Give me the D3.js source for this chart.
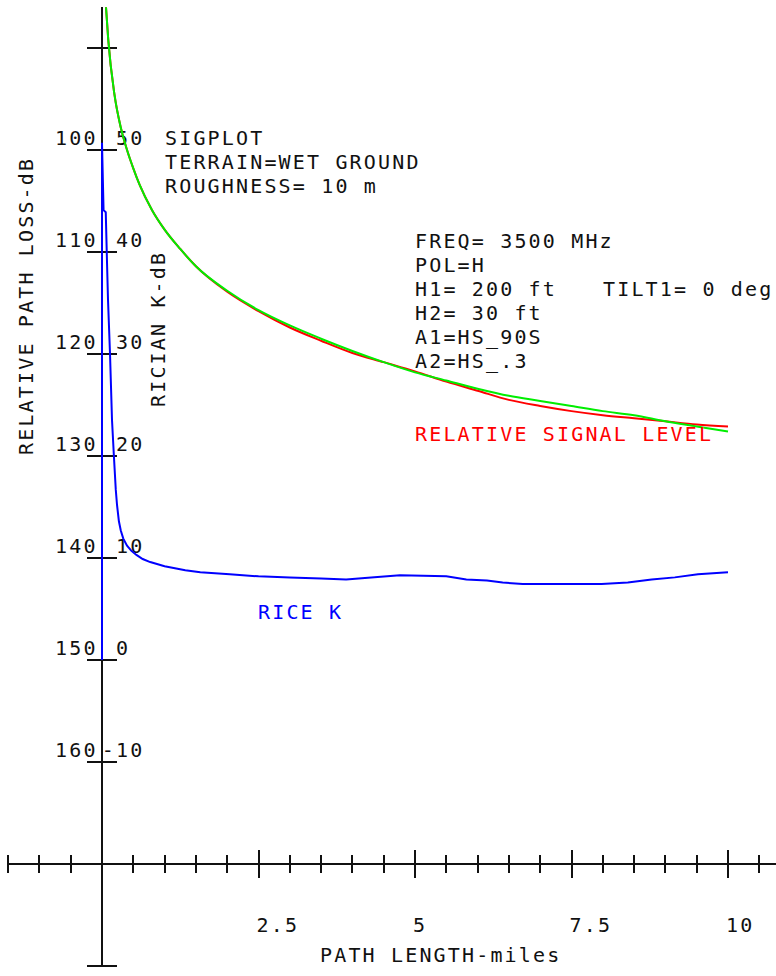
<!DOCTYPE html>
<html>
<head>
<meta charset="utf-8">
<script src="https://cdn.jsdelivr.net/npm/d3@7"></script>
<style>
  html, body { margin: 0; padding: 0; background: #fff; }
  svg { display: block; }
  text { font-family: "DejaVu Sans Mono", monospace; font-size: 20px; letter-spacing: 2.16px; }
</style>
</head>
<body>
<svg id="chart" width="776" height="976"></svg>
<script>
// ---- data ----
const lossDist = [0.064, 0.1, 0.2, 0.3, 0.4, 0.5, 0.6, 0.8, 1.0, 1.25, 1.5, 2.0, 2.5, 3.0, 3.5, 4.0, 4.5, 5.0, 5.5, 6.0, 6.5, 7.0, 7.5, 8.0, 8.5, 9.0, 9.5, 10.0];
const greenLoss = [86.0, 89.2, 94.6, 97.8, 100.0, 101.8, 103.4, 105.9, 107.8, 109.7, 111.4, 113.8, 115.7, 117.2, 118.5, 119.7, 120.8, 121.8, 122.6, 123.4, 124.1, 124.6, 125.1, 125.6, 126.0, 126.6, 127.1, 127.6];
const redLoss   = [86.0, 89.2, 94.6, 97.8, 100.0, 101.8, 103.4, 105.9, 107.8, 109.7, 111.4, 113.9, 115.8, 117.4, 118.7, 119.9, 120.8, 121.7, 122.7, 123.6, 124.5, 125.1, 125.6, 126.0, 126.3, 126.6, 126.9, 127.1];
const kDist = [0, 0, 0.025, 0.06, 0.08, 0.096, 0.128, 0.16, 0.19, 0.22, 0.24, 0.27, 0.3, 0.34, 0.4, 0.47, 0.55, 0.65, 0.77, 1.0, 1.33, 1.57, 2.04, 2.5, 3.0, 3.5, 3.9, 4.3, 4.76, 5.5, 5.82, 6.15, 6.4, 6.72, 7.98, 8.4, 8.78, 9.15, 9.52, 10.0];
const riceK = [0, 50.7, 44.1, 43.9, 39.0, 35.3, 30.0, 23.5, 20.0, 16.7, 15.2, 13.6, 12.7, 11.9, 11.2, 10.7, 10.3, 9.9, 9.6, 9.2, 8.8, 8.6, 8.4, 8.2, 8.1, 8.0, 7.9, 8.1, 8.3, 8.2, 7.9, 7.8, 7.6, 7.45, 7.45, 7.6, 7.9, 8.1, 8.4, 8.6];

const lossTicks = [90, 100, 110, 120, 130, 140, 150, 160, 170, 180];
const lossTickLabels = ["", "100", "110", "120", "130", "140", "150", "160", "", ""];
const kTickLabels = ["", "50", "40", "30", "20", "10", "0", "-10", "", ""];
const xTicks = [-1.5, -1, -0.5, 0, 0.5, 1, 1.5, 2, 2.5, 3, 3.5, 4, 4.5, 5, 5.5, 6, 6.5, 7, 7.5, 8, 8.5, 9, 9.5, 10, 10.5];
const xLabelValues = [2.5, 5, 7.5, 10];
const xLabelTexts = ["2.5", "5", "7.5", "10"];

const infoLeft = ["SIGPLOT", "TERRAIN=WET GROUND", "ROUGHNESS= 10 m"];
const infoRight = ["FREQ= 3500 MHz", "POL=H", "H1= 200 ft", "H2= 30 ft", "A1=HS_90S", "A2=HS_.3"];

// ---- scales ----
const x = d3.scaleLinear().domain([0, 10]).range([102, 728]);
const yLoss = d3.scaleLinear().domain([100, 150]).range([150, 660]);
const yK = d3.scaleLinear().domain([50, 0]).range([150, 660]);

const svg = d3.select("#chart");
const charW = 14.2;

// ---- axes ----
const axisG = svg.append("g").attr("stroke", "#111").attr("stroke-width", 2).attr("shape-rendering", "crispEdges");
axisG.append("line").attr("x1", x(0)).attr("x2", x(0)).attr("y1", yLoss(86)).attr("y2", yLoss(180));
lossTicks.forEach(t => {
  axisG.append("line").attr("x1", x(0) - 15).attr("x2", x(0) + 15).attr("y1", yLoss(t)).attr("y2", yLoss(t));
});
axisG.append("line").attr("x1", x(-1.5)).attr("x2", 776).attr("y1", yLoss(170)).attr("y2", yLoss(170));
xTicks.forEach(t => {
  const major = Math.abs(t / 2.5 - Math.round(t / 2.5)) < 1e-6 && t > 0;
  const h = major ? 14 : 9;
  axisG.append("line").attr("x1", x(t)).attr("x2", x(t)).attr("y1", yLoss(170) - h).attr("y2", yLoss(170) + h);
});

// tick labels
const lab = svg.append("g").attr("fill", "#111");
lossTicks.forEach((t, i) => {
  if (lossTickLabels[i]) {
    lab.append("text").attr("x", 55).attr("y", yLoss(t) - 5).text(lossTickLabels[i]);
  }
  const kl = kTickLabels[i];
  if (kl) {
    lab.append("text").attr("x", 116 - (kl.startsWith("-") ? charW : 0)).attr("y", yLoss(t) - 5).text(kl);
  }
});
xLabelValues.forEach((v, i) => {
  lab.append("text").attr("x", x(v) - 2).attr("y", 932).text(xLabelTexts[i]);
});

// axis titles
lab.append("text").attr("x", 320).attr("y", 962).text("PATH LENGTH-miles");
lab.append("text").attr("transform", "translate(33,455) rotate(-90)").text("RELATIVE PATH LOSS-dB");
lab.append("text").attr("transform", "translate(165,407) rotate(-90)").text("RICIAN K-dB");

// info text
infoLeft.forEach((s, i) => {
  lab.append("text").attr("x", 165).attr("y", [145, 169, 193][i]).text(s);
});
infoRight.forEach((s, i) => {
  lab.append("text").attr("x", 415).attr("y", 248 + i * 24).text(s);
});
lab.append("text").attr("x", 603).attr("y", 296).text("TILT1= 0 deg");

// ---- curves ----
const lossLine = d3.line().x(d => x(d[0])).y(d => yLoss(d[1])).curve(d3.curveMonotoneX);
const kLine = d3.line().x(d => x(d[0])).y(d => yK(d[1]));

svg.append("path")
  .attr("d", lossLine(lossDist.map((d, i) => [d, redLoss[i]])))
  .attr("fill", "none").attr("stroke", "#ff0000").attr("stroke-width", 2);
svg.append("path")
  .attr("d", lossLine(lossDist.map((d, i) => [d, greenLoss[i]])))
  .attr("fill", "none").attr("stroke", "#00ee00").attr("stroke-width", 2);
svg.append("path")
  .attr("d", kLine(kDist.map((d, i) => [d, riceK[i]])))
  .attr("fill", "none").attr("stroke", "#0000ff").attr("stroke-width", 2);

// curve labels
svg.append("text").attr("x", 415).attr("y", 441).attr("fill", "#ff0000").text("RELATIVE SIGNAL LEVEL");
svg.append("text").attr("x", 258).attr("y", 619).attr("fill", "#0000ff").text("RICE K");
</script>
</body>
</html>
